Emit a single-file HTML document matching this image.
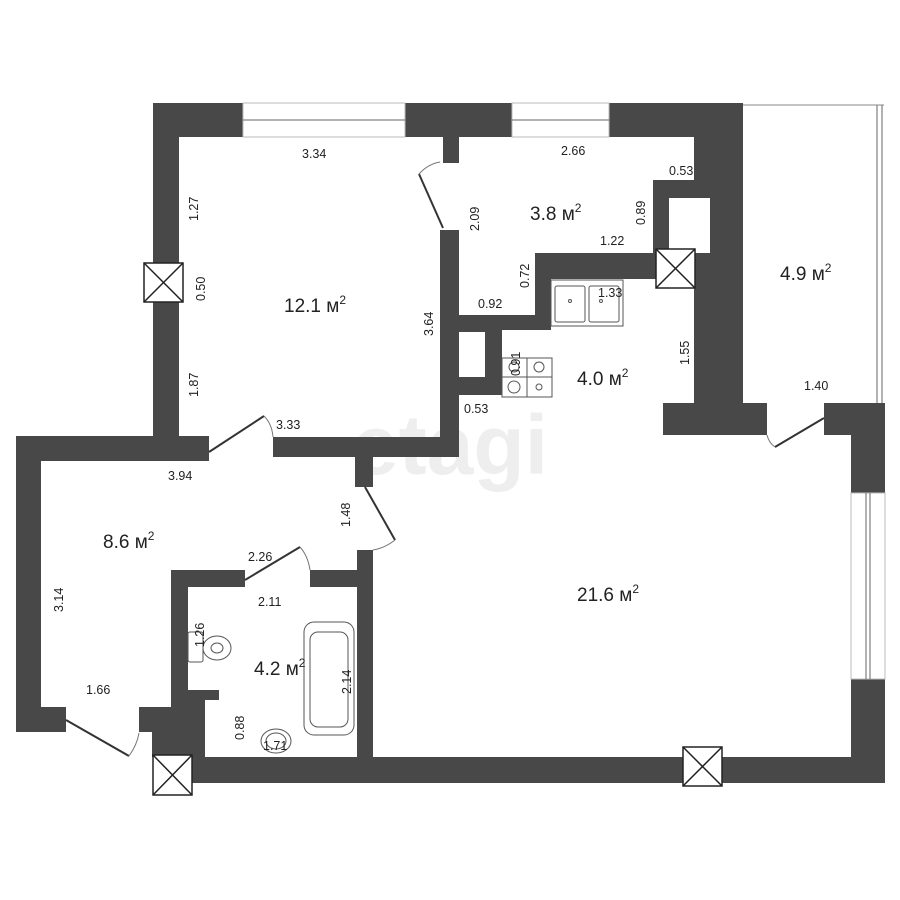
<!DOCTYPE html>
<html><head><meta charset="utf-8"><style>
html,body{margin:0;padding:0;background:#fff;}
svg{display:block;}
text{font-family:"Liberation Sans",sans-serif;fill:#222;}
.d{font-size:12.5px;}
.a{font-size:19px;}
</style></head><body>
<svg width="900" height="900" viewBox="0 0 900 900" xmlns="http://www.w3.org/2000/svg">
<rect width="900" height="900" fill="#fff"/>
<!-- watermark -->
<text x="352" y="474" style="font-size:84px;font-weight:bold;fill:#eeeeee;font-family:'Liberation Sans',sans-serif;">etagi</text>
<g fill="#484848">
<!-- 12.1 room -->
<rect x="153" y="103" width="26" height="354"/>
<rect x="153" y="103" width="90" height="34"/>
<rect x="405" y="103" width="107" height="34"/>
<rect x="443" y="103" width="16" height="60"/>
<rect x="440" y="230" width="19" height="225"/>
<rect x="153" y="437" width="56" height="20"/>
<rect x="273" y="437" width="186" height="20"/>
<rect x="355" y="437" width="18" height="50"/>
<!-- 8.6 room -->
<rect x="16" y="436" width="193" height="25"/>
<rect x="16" y="436" width="25" height="296"/>
<rect x="16" y="707" width="50" height="25"/>
<rect x="139" y="707" width="33" height="25"/>
<rect x="152" y="707" width="38" height="50"/>
<!-- bathroom -->
<rect x="171" y="570" width="17" height="187"/>
<rect x="171" y="570" width="74" height="17"/>
<rect x="310" y="570" width="63" height="17"/>
<rect x="357" y="550" width="16" height="225"/>
<rect x="188" y="690" width="31" height="67"/>
<!-- bottom wall -->
<rect x="172" y="757" width="713" height="26"/>
<!-- right wall -->
<rect x="851" y="403" width="34" height="90"/>
<rect x="851" y="679" width="34" height="104"/>
<rect x="824" y="403" width="61" height="32"/>
<rect x="663" y="403" width="104" height="32"/>
<!-- kitchen -->
<rect x="609" y="103" width="134" height="34"/>
<rect x="710" y="103" width="33" height="152"/>
<rect x="694" y="103" width="49" height="300"/>
<rect x="653" y="180" width="57" height="75"/>
<rect x="535" y="253" width="121" height="26"/>
<rect x="535" y="253" width="16" height="77"/>
<rect x="459" y="315" width="92" height="15"/>
<rect x="459" y="330" width="43" height="65"/>
</g>
<g fill="#fff">
<rect x="669" y="198" width="41" height="55"/>
<rect x="459" y="332" width="26" height="45"/>
<rect x="205" y="700" width="14" height="57"/>
</g>
<!-- windows -->
<g stroke="#666" stroke-width="1" fill="none">
<rect x="243" y="103" width="162" height="34" stroke="#bbb"/>
<line x1="243" y1="120" x2="405" y2="120"/>
<rect x="512" y="103" width="97" height="34" stroke="#bbb"/>
<line x1="512" y1="120" x2="609" y2="120"/>
<rect x="851" y="493" width="34" height="186" stroke="#bbb"/>
<line x1="866" y1="493" x2="866" y2="679"/><line x1="870" y1="493" x2="870" y2="679"/>
<!-- balcony -->
<line x1="743" y1="105" x2="884" y2="105" stroke="#888"/>
<line x1="877" y1="105" x2="877" y2="403"/>
<line x1="882" y1="105" x2="882" y2="403"/>
</g>
<!-- doors -->
<g stroke="#333" stroke-width="2" fill="none">
<line x1="209" y1="452" x2="264" y2="416"/>
<line x1="443" y1="228" x2="419" y2="174"/>
<line x1="775" y1="447" x2="824" y2="418"/>
<line x1="245" y1="580" x2="300" y2="547"/>
<line x1="365" y1="487" x2="395" y2="540"/>
<line x1="66" y1="720" x2="129" y2="756"/>
</g>
<g stroke="#777" stroke-width="1" fill="none">
<path d="M264 416 Q272 424 273 437"/>
<path d="M419 174 Q428 164 440 162"/>
<path d="M767 435 Q769 443 775 447"/>
<path d="M300 547 Q308 556 310 570"/>
<path d="M395 540 Q385 548 373 550"/>
<path d="M129 756 Q137 745 139 733"/>
</g>
<!-- vents -->
<g stroke="#222" stroke-width="1.5" fill="#fff">
<rect x="144" y="263" width="39" height="39"/><path d="M144 263L183 302M183 263L144 302"/>
<rect x="656" y="249" width="39" height="39"/><path d="M656 249L695 288M695 249L656 288"/>
<rect x="683" y="747" width="39" height="39"/><path d="M683 747L722 786M722 747L683 786"/>
<rect x="153" y="755" width="39" height="40"/><path d="M153 755L192 795M192 755L153 795"/>
</g>
<!-- fixtures -->
<g stroke="#555" stroke-width="1" fill="#fff">
<rect x="551" y="280" width="72" height="46"/>
<rect x="555" y="286" width="30" height="36" rx="2"/><rect x="589" y="286" width="30" height="36" rx="2"/>
<circle cx="570" cy="301" r="1.5"/><circle cx="601" cy="301" r="1.5"/>
<rect x="502" y="358" width="50" height="39"/>
<line x1="527" y1="358" x2="527" y2="397"/><line x1="502" y1="377" x2="552" y2="377"/>
<circle cx="514" cy="367" r="5"/><circle cx="539" cy="367" r="5"/><circle cx="514" cy="387" r="6"/><circle cx="539" cy="387" r="3"/>
<rect x="304" y="622" width="50" height="113" rx="10"/>
<rect x="310" y="632" width="38" height="95" rx="8"/>
<ellipse cx="276" cy="741" rx="15" ry="12"/><ellipse cx="276" cy="741" rx="10" ry="8"/>
<rect x="188" y="632" width="15" height="30" rx="2"/>
<ellipse cx="217" cy="648" rx="14" ry="12"/><ellipse cx="217" cy="648" rx="6" ry="5"/>
</g>
<g class="d">
<text x="302" y="158">3.34</text>
<text x="86" y="694">1.66</text>
<text x="276" y="429">3.33</text>
<text x="168" y="480">3.94</text>
<text x="248" y="561">2.26</text>
<text x="258" y="606">2.11</text>
<text x="263" y="750">1.71</text>
<text x="561" y="155">2.66</text>
<text x="669" y="175">0.53</text>
<text x="600" y="245">1.22</text>
<text x="478" y="308">0.92</text>
<text x="598" y="297">1.33</text>
<text x="464" y="413">0.53</text>
<text x="804" y="390">1.40</text>
<text transform="translate(198,221) rotate(-90)">1.27</text>
<text transform="translate(205,301) rotate(-90)">0.50</text>
<text transform="translate(198,397) rotate(-90)">1.87</text>
<text transform="translate(433,336) rotate(-90)">3.64</text>
<text transform="translate(350,527) rotate(-90)">1.48</text>
<text transform="translate(63,612) rotate(-90)">3.14</text>
<text transform="translate(204,647) rotate(-90)">1.26</text>
<text transform="translate(351,694) rotate(-90)">2.14</text>
<text transform="translate(244,740) rotate(-90)">0.88</text>
<text transform="translate(479,231) rotate(-90)">2.09</text>
<text transform="translate(645,225) rotate(-90)">0.89</text>
<text transform="translate(529,288) rotate(-90)">0.72</text>
<text transform="translate(689,365) rotate(-90)">1.55</text>
<text transform="translate(520,376) rotate(-90)">0.91</text>
</g>
<g class="a">
<text x="284" y="312">12.1 м<tspan dy="-8" font-size="12">2</tspan></text>
<text x="103" y="548">8.6 м<tspan dy="-8" font-size="12">2</tspan></text>
<text x="254" y="675">4.2 м<tspan dy="-8" font-size="12">2</tspan></text>
<text x="530" y="220">3.8 м<tspan dy="-8" font-size="12">2</tspan></text>
<text x="577" y="385">4.0 м<tspan dy="-8" font-size="12">2</tspan></text>
<text x="780" y="280">4.9 м<tspan dy="-8" font-size="12">2</tspan></text>
<text x="577" y="601">21.6 м<tspan dy="-8" font-size="12">2</tspan></text>
</g>
</svg>
</body></html>
